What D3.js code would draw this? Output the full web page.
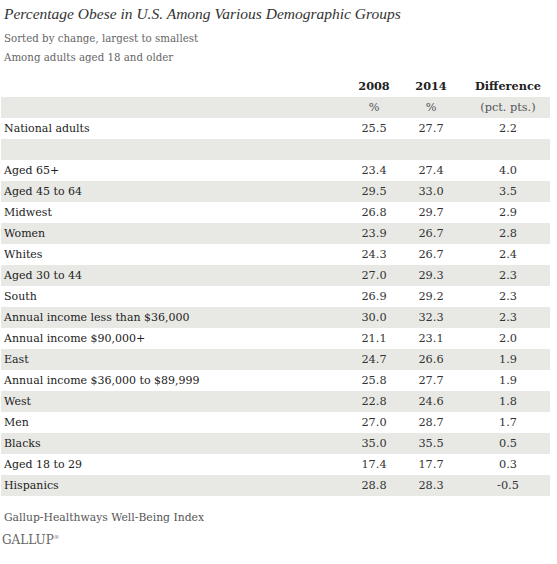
<!DOCTYPE html>
<html><head><meta charset="utf-8">
<script src="https://cdn.jsdelivr.net/npm/d3@7"></script>
<style>
body{margin:0;background:#fff;}
svg text{font-family:"DejaVu Serif","Liberation Serif",serif;}
</style></head>
<body><svg id="c" width="557" height="564"></svg>
<script>
const title = "Percentage Obese in U.S. Among Various Demographic Groups";
const subtitles = ["Sorted by change, largest to smallest", "Among adults aged 18 and older"];
const columns = ["2008", "2014", "Difference"];
const units = ["%", "%", "(pct. pts.)"];
const nationalLabel = "National adults";
const national2008 = 25.5, national2014 = 27.7, nationalDiff = 2.2;
const groups = ["Aged 65+","Aged 45 to 64","Midwest","Women","Whites","Aged 30 to 44","South",
  "Annual income less than $36,000","Annual income $90,000+","East","Annual income $36,000 to $89,999",
  "West","Men","Blacks","Aged 18 to 29","Hispanics"];
const values2008 = [23.4,29.5,26.8,23.9,24.3,27.0,26.9,30.0,21.1,24.7,25.8,22.8,27.0,35.0,17.4,28.8];
const values2014 = [27.4,33.0,29.7,26.7,26.7,29.3,29.2,32.3,23.1,26.6,27.7,24.6,28.7,35.5,17.7,28.3];
const differences = [4.0,3.5,2.9,2.8,2.4,2.3,2.3,2.3,2.0,1.9,1.9,1.8,1.7,0.5,0.3,-0.5];
const source = "Gallup-Healthways Well-Being Index";
const brand = "GALLUP";

const svg = d3.select("#c");
const f1 = d3.format(".1f");
const fmt = v => f1(v).replace("\u2212","-");

// rows: units row, national row, blank row, then groups
const rows = [{label:"", vals:units, unit:true},
  {label:nationalLabel, vals:[national2008,national2014,nationalDiff].map(fmt)},
  {label:"", vals:["","",""]}]
  .concat(groups.map((g,i)=>({label:g, vals:[values2008[i],values2014[i],differences[i]].map(fmt)})));

const y = d3.scaleBand().domain(d3.range(rows.length)).range([97, 97 + 21*rows.length]);
const x = d3.scaleOrdinal().domain(columns).range([374, 431, 508]);

svg.append("text").attr("x",4).attr("y",19).attr("font-style","italic").attr("font-size",15.5)
  .style("font-family","'Liberation Serif',serif").attr("fill","#333").text(title);
subtitles.forEach((s,i)=>svg.append("text").attr("x",4).attr("y",41.5+i*19.5).attr("font-size",10.25)
  .attr("fill","#666").text(s));

// header
svg.selectAll("text.hdr").data(columns).join("text").attr("class","hdr")
  .attr("x",d=>x(d)).attr("y",90).attr("text-anchor","middle").attr("font-weight","bold")
  .attr("font-size",11.3).attr("fill","#222").text(d=>d);

const g = svg.selectAll("g.row").data(rows).join("g").attr("class","row")
  .attr("transform",(d,i)=>`translate(0,${y(i)})`);
g.filter((d,i)=>i%2===0).append("rect").attr("x",1).attr("width",549).attr("height",y.bandwidth())
  .attr("fill","#e8e9e5");
g.append("text").attr("x",4).attr("y",14).attr("font-size",11).attr("fill","#222").text(d=>d.label);
g.each(function(d){
  d3.select(this).selectAll("text.v").data(d.vals).join("text").attr("class","v")
    .attr("x",(v,j)=>x(columns[j])).attr("y",14).attr("text-anchor","middle")
    .attr("font-size",11.3).attr("fill",d.unit?"#555":"#333").text(v=>v);
});

svg.append("text").attr("x",4).attr("y",521).attr("font-size",10.8).attr("fill","#555").text(source);
const b = svg.append("text").attr("x",2).attr("y",544).attr("font-size",12).attr("fill","#666");
b.append("tspan").text(brand);
b.append("tspan").attr("font-size",5.5).attr("dy",-5).text("®");
</script></body></html>
